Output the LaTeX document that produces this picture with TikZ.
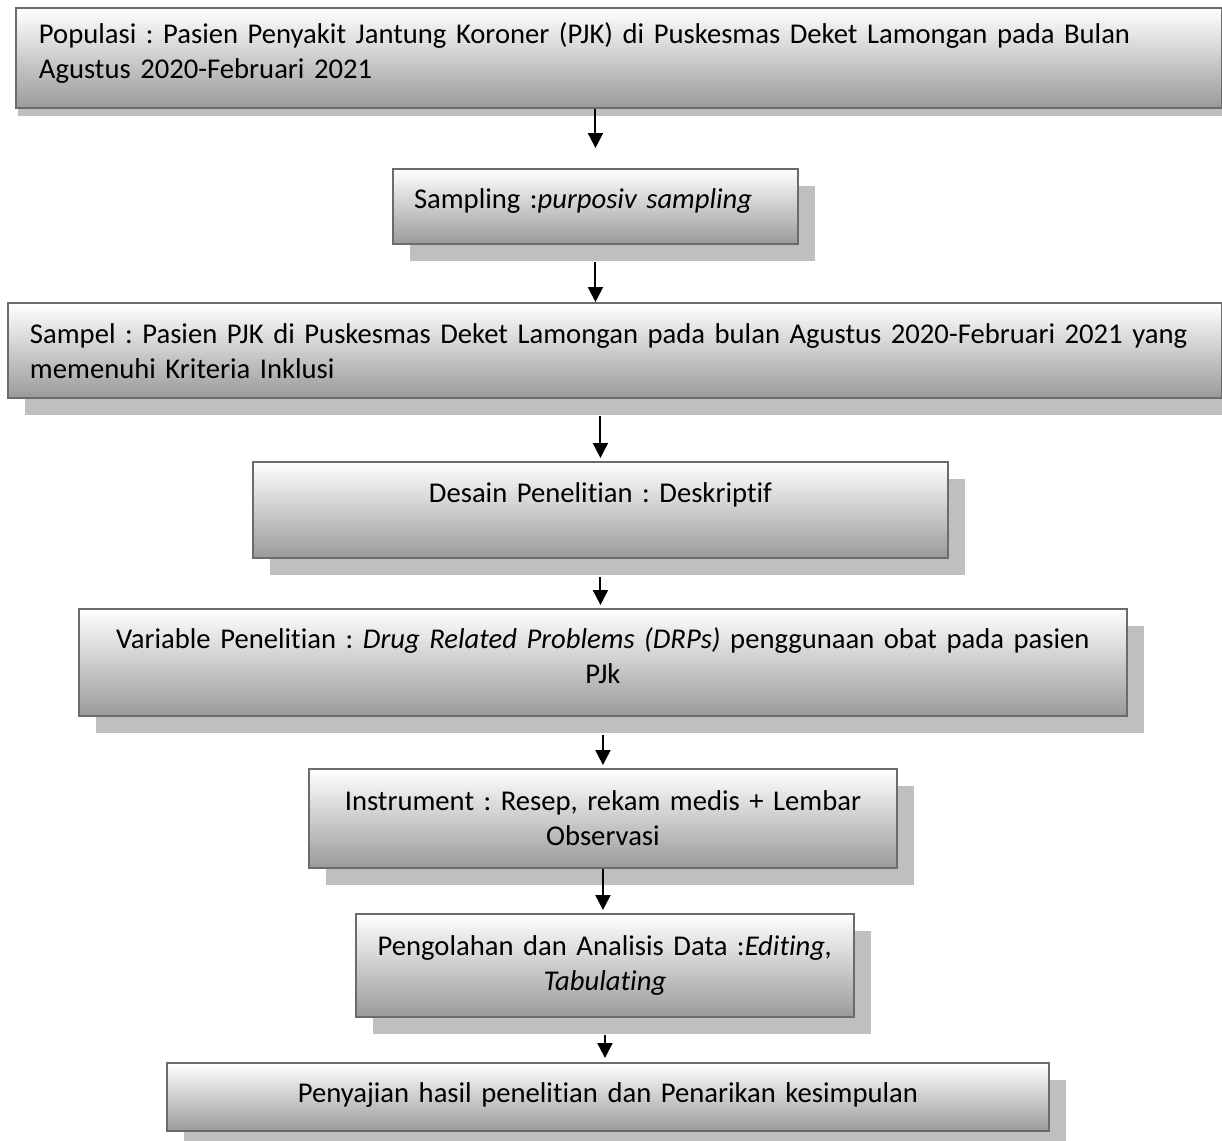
\documentclass[tikz,border=0pt]{standalone}
\usepackage{fontspec}
\setmainfont{Carlito}[Ligatures=CommonOff, Contextuals=AlternateOff]
\usepackage{tikz}
\usepackage{xcolor}
\usetikzlibrary{
    arrows.meta,
    shadows,
    positioning
}
\frenchspacing
\definecolor{boxline}{HTML}{6B6B6B}
\definecolor{boxshade}{HTML}{BFBFBF}
\definecolor{boxbottom}{HTML}{9A9A9A}
\newcommand\boxfont{\fontsize{16.3}{19.92}\selectfont}
\tikzset{
    flowbox/.style={draw=boxline, line width=0.04cm, top color=white, bottom color=boxbottom,
        anchor=north west, inner ysep=0pt, inner xsep=0.2cm, align=center, font=\boxfont},
    boxshadow/.style={drop shadow={fill=boxshade, opacity=1, shadow xshift=0.34cm, shadow yshift=-0.34cm}},
    arr/.style={line width=0.04cm, -{Triangle[length=0.3cm, width=0.3cm]}}
}

\begin{document}
\begin{tikzpicture}[x=0.02cm, y=-0.02cm]
                        \useasboundingbox (0, 0) rectangle (1222, 1140);
                        \node[flowbox, drop shadow={fill=boxshade, opacity=1, shadow xshift=0.04cm, shadow yshift=-0.16cm},
                            align=left, inner xsep=0.46cm, text width=23.2cm, text height=0.72cm, text depth=1.28cm] (pop) at (15, 7)
                            {Populasi : Pasien Penyakit Jantung Koroner (PJK) di Puskesmas Deket Lamongan pada Bulan\\Agustus 2020-Februari 2021};
                        \node[flowbox, boxshadow, align=left, inner xsep=0.42cm, text width=7.26cm, text height=0.78cm, text depth=0.72cm] (samp) at (392, 168)
                            {Sampling :\textit{purposiv sampling}};
                        \node[flowbox, boxshadow, align=left, inner xsep=0.44cm, text width=23.4cm, text height=0.8cm, text depth=1.1cm] (sampel) at (7, 302)
                            {Sampel : Pasien PJK di Puskesmas Deket Lamongan pada bulan Agustus 2020-Februari 2021 yang\\memenuhi Kriteria Inklusi};
                        \node[flowbox, boxshadow, text width=13.5cm, text height=0.8cm, text depth=1.12cm] (desain) at (252, 461)
                            {Desain Penelitian : Deskriptif};
                        \node[flowbox, boxshadow, text width=20.56cm, text height=0.78cm, text depth=1.36cm] (var) at (78, 608)
                            {Variable Penelitian : \textit{Drug Related Problems (DRPs)} penggunaan obat pada pasien\\PJk};
                        \node[flowbox, boxshadow, text width=11.36cm, text height=0.82cm, text depth=1.16cm] (instr) at (308, 768)
                            {Instrument : Resep, rekam medis + Lembar\\Observasi};
                        \node[flowbox, boxshadow, text width=9.56cm, text height=0.82cm, text depth=1.24cm] (olah) at (355, 913)
                            {Pengolahan dan Analisis Data :\textit{Editing,}\\\textit{Tabulating}};
                        \node[flowbox, boxshadow, text width=17.24cm, text height=0.78cm, text depth=0.58cm] (saji) at (166, 1062)
                            {Penyajian hasil penelitian dan Penarikan kesimpulan};
                        \draw
                        (pop.south -| samp.north) edge[arr, shorten >=0.4cm] (samp.north)
                        (samp.south) edge[arr, shorten <=0.34cm] (sampel.north -| samp.south)
                        (sampel.south -| desain.north) edge[arr, shorten <=0.34cm, shorten >=0.06cm] (desain.north)
                        (desain.south) edge[arr, shorten <=0.36cm, shorten >=0.06cm] (var.north -| desain.south)
                        (var.south -| instr.north) edge[arr, shorten <=0.36cm, shorten >=0.06cm] (instr.north)
                        (instr.south) edge[arr, shorten >=0.06cm] (olah.north -| instr.south)
                        (olah.south) edge[arr, shorten <=0.34cm, shorten >=0.08cm] (saji.north -| olah.south);
                    \end{tikzpicture}
\end{document}
